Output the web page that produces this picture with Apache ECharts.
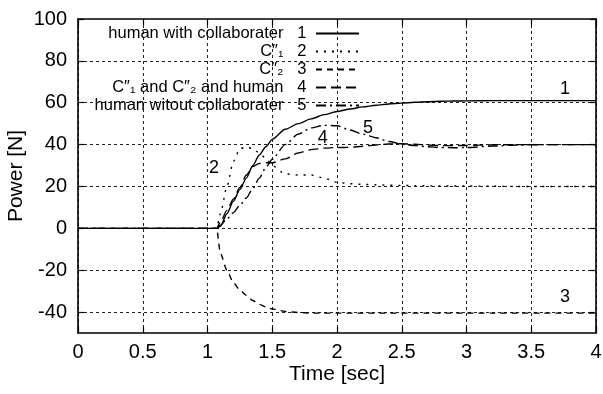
<!DOCTYPE html>
<html><head><meta charset="utf-8">
<script src="https://cdn.jsdelivr.net/npm/echarts@6/dist/echarts.min.js"></script>
<style>html,body{margin:0;padding:0;background:#fff}#c{width:603px;height:394px}</style>
</head><body><div id="c"></div>
<script>
var times = [0, 1.07, 1.1, 1.15, 1.2, 1.25, 1.3, 1.35, 1.4, 1.45, 1.5, 1.6, 1.7, 1.8, 1.9, 2.0, 2.1, 2.2, 2.3, 2.4, 2.5, 2.6, 2.7, 2.8, 2.9, 3.0, 3.2, 3.4, 3.6, 3.8, 4.0];
var humanWith = [0,0,1,7,13,18.5,24,30,35,39,42.5,47.3,50,52.3,54.3,55.8,57,58,58.8,59.4,59.8,60.2,60.5,60.7,60.8,60.9,61,61,61,61,61];
var c1 = [0,0,7,20,32,38,39,38,36,33.5,30,26,25.5,25.5,24,22,21.3,21,20.8,20.6,20.5,20.4,20.3,20.2,20.2,20.2,20.1,20,20,20,20];
var c2 = [0,0,-12,-20,-26,-29.5,-32,-34.5,-36.3,-37.5,-38.5,-39.7,-40.2,-40.5,-40.5,-40.5,-40.5,-40.5,-40.5,-40.5,-40.5,-40.5,-40.5,-40.5,-40.5,-40.5,-40.5,-40.5,-40.5,-40.5,-40.5];
var c1c2human = [0,0,3,8.6,14,19.5,25.5,29.5,31,31.3,31.3,33.2,36,37.6,38.3,38.6,38.7,39.2,39.8,40.3,40.4,40.2,39.8,39.5,39.5,39.6,39.9,40,40,40,40];
var humanWithout = [0,0,1.5,4.5,7.5,11,14.5,19,24,29,33,40,45,48,49.2,49,47,45,43.3,41.5,40.3,39.5,39,38.6,38.5,38.6,39.3,39.8,40,40,40];

var names = ['human with collaborater', 'C\u2033\u2081', 'C\u2033\u2082', 'C\u2033\u2081 and C\u2033\u2082 and human', 'human witout collaborater'];
var nums = ['1','2','3','4','5'];
var curveLabelPos = [[3.76, 66.7], [1.05, 28.6], [3.76, -33], [1.89, 43.3], [2.24, 48]];
var yTicks = [-40, -20, 0, 20, 40, 60, 80, 100];
var yGrid = [-40, -20, 0, 20, 40, 60, 80];

var seriesValues = [humanWith, c1, c2, c1c2human, humanWithout];
var dashTypes = ['solid', [2,6], [6,5], [10,5], [10,4,2,4]];

var FONT = 'Liberation Sans, Arial, sans-serif';
var chart = echarts.init(document.getElementById('c'), null, {renderer:'canvas'});

var series = seriesValues.map(function(vals, i){
  return {
    type:'line', name: names[i],
    data: times.map(function(t, k){ return [t, vals[k]]; }),
    symbol:'none', smooth:0.25, smoothMonotone:'x',
    lineStyle:{color:'#000', width:1.4, type:dashTypes[i]},
    itemStyle:{color:'#000'},
    z: 5,
    markPoint:{
      symbol:'circle', symbolSize:0, silent:true,
      label:{show:true, formatter:nums[i], color:'#000', fontSize:18, fontFamily:FONT, position:'inside'},
      data:[{coord:curveLabelPos[i]}]
    }
  };
});
series.push({
  type:'line', name:'grid', data:[], silent:true, legendHoverLink:false,
  markLine:{
    silent:true, symbol:'none', animation:false,
    label:{show:false},
    lineStyle:{color:'#222', width:1, type:[3,3]},
    data: yGrid.map(function(v){ return {yAxis:v}; })
  }
});

var axLine = {show:true, onZero:false, lineStyle:{color:'#000', width:1.6}};
var axTick = {show:true, inside:true, length:6, lineStyle:{color:'#000', width:1.2}};

chart.setOption({
  animation:false,
  backgroundColor:'#fff',
  textStyle:{fontFamily:FONT},
  grid:{left:78, right:7, top:19, bottom:61, containLabel:false, outerBoundsMode:'none'},
  legend:{
    orient:'vertical', align:'right', right:243, top:25, padding:0,
    itemWidth:43, itemHeight:14, itemGap:1,
    data: names,
    selectedMode:false,
    itemStyle:{color:'rgba(0,0,0,0)', borderWidth:0, opacity:0},
    formatter:function(n){ var i = names.indexOf(n); return n + '   ' + nums[i] + ' '; },
    textStyle:{color:'#000', fontFamily:FONT, fontSize:16.5, lineHeight:16}
  },
  xAxis:[
    {type:'value', min:0, max:4, interval:0.5, position:'bottom',
      name:'Time [sec]', nameLocation:'middle', nameGap:31, nameMoveOverlap:false,
      nameTextStyle:{fontSize:21, color:'#000', fontFamily:FONT},
      axisLabel:{fontSize:20, color:'#000', margin:9, fontFamily:FONT},
      axisLine:axLine, axisTick:axTick,
      splitLine:{show:true, lineStyle:{color:'#222', width:1, type:[3,3]}}
    },
    {type:'value', min:0, max:4, interval:0.5, position:'top',
      axisLabel:{show:false}, splitLine:{show:false}, axisLine:axLine, axisTick:axTick}
  ],
  yAxis:[
    {type:'value', min:-50, max:100, position:'left',
      name:'Power [N]', nameLocation:'middle', nameGap:51, nameMoveOverlap:false,
      nameTextStyle:{fontSize:21, color:'#000', fontFamily:FONT},
      axisLabel:{fontSize:20, color:'#000', margin:11, fontFamily:FONT, customValues:yTicks},
      axisTick:Object.assign({customValues:yTicks}, axTick),
      axisLine:axLine,
      splitLine:{show:false}
    },
    {type:'value', min:-50, max:100, position:'right',
      axisLabel:{show:false, customValues:yTicks},
      axisTick:Object.assign({customValues:yTicks}, axTick),
      axisLine:axLine,
      splitLine:{show:false}}
  ],
  series: series
});
</script></body></html>
